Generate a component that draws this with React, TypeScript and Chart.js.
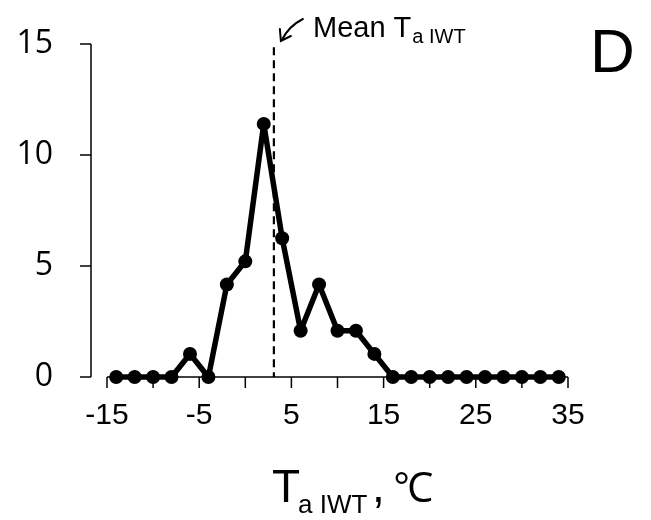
import React, { useEffect, useRef } from 'react';
import { Chart, registerables } from 'chart.js';

Chart.register(...registerables);

const temperatures = [-14, -12, -10, -8, -6, -4, -2, 0, 2, 4, 6, 8, 10, 12, 14, 16, 18, 20, 22, 24, 26, 28, 30, 32, 34];
const frequencies = [0, 0, 0, 0, 1.04, 0, 4.17, 5.21, 11.4, 6.25, 2.08, 4.17, 2.08, 2.08, 1.04, 0, 0, 0, 0, 0, 0, 0, 0, 0, 0];
const meanTemperature = 3.1;
const xTickValues = [-15, -10, -5, 0, 5, 10, 15, 20, 25, 30, 35];
const xTickLabels = [-15, -5, 5, 15, 25, 35];
const yTickValues = [0, 5, 10, 15];

const SANS = '"Liberation Sans", Arial, sans-serif';

export default function App() {
  const ref = useRef<HTMLCanvasElement>(null);

  useEffect(() => {
    document.body.style.margin = '0';
    const canvas = ref.current!;

    const overlay = {
      id: 'overlay',
      beforeDatasetsDraw(chart: any) {
        const { ctx, chartArea, scales } = chart;
        const x = scales.x;
        const y = scales.y;
        const line = (x1: number, y1: number, x2: number, y2: number) => {
          ctx.beginPath();
          ctx.moveTo(x1, y1);
          ctx.lineTo(x2, y2);
          ctx.stroke();
        };
        ctx.save();
        ctx.strokeStyle = '#000';
        ctx.lineWidth = 1.5;
        const yAxisX = chartArea.left - 16;
        const y0 = y.getPixelForValue(0);
        line(yAxisX, y.getPixelForValue(15), yAxisX, y0);
        yTickValues.forEach((v) => {
          const py = y.getPixelForValue(v);
          line(yAxisX - 11, py, yAxisX, py);
        });
        line(x.getPixelForValue(-15), y0, x.getPixelForValue(35), y0);
        xTickValues.forEach((v) => {
          const px = x.getPixelForValue(v);
          line(px, y0, px, y0 + 11);
        });
        // mean dashed line
        ctx.lineWidth = 2.2;
        ctx.setLineDash([8, 5]);
        const mx = x.getPixelForValue(meanTemperature);
        line(mx, y.getPixelForValue(14.85), mx, y0);
        ctx.setLineDash([]);
        ctx.restore();
      },
      afterDraw(chart: any) {
        const { ctx, scales } = chart;
        const x = scales.x;
        ctx.save();
        ctx.fillStyle = '#000';
        ctx.strokeStyle = '#000';
        ctx.textBaseline = 'alphabetic';
        ctx.textAlign = 'left';

        // Mean annotation
        ctx.font = `29px ${SANS}`;
        let cx = 313;
        ctx.fillText('Mean T', cx, 37);
        cx += ctx.measureText('Mean T').width;
        ctx.font = `20px ${SANS}`;
        ctx.fillText('a IWT', cx + 1, 43);

        // arrow
        const mx = x.getPixelForValue(meanTemperature);
        const ax = mx + 7;
        ctx.lineWidth = 2;
        ctx.lineCap = 'round';
        ctx.beginPath();
        ctx.moveTo(ax + 22, 19);
        ctx.quadraticCurveTo(ax + 8, 26, ax + 1, 40);
        ctx.stroke();
        ctx.beginPath();
        ctx.moveTo(ax - 1, 29);
        ctx.lineTo(ax, 41);
        ctx.lineTo(ax + 10, 36);
        ctx.stroke();

        // panel letter
        ctx.font = `62px ${SANS}`;
        ctx.fillText('D', 590, 72);

        // x axis title
        ctx.font = `46px ${SANS}`;
        let tx = 272;
        ctx.fillText('T', tx, 502);
        tx += ctx.measureText('T').width;
        ctx.font = `26px ${SANS}`;
        ctx.fillText('a IWT', tx - 2, 513);
        ctx.font = `46px ${SANS}`;
        ctx.fillText(',', 372, 502);
        ctx.font = `43px ${SANS}`;
        ctx.fillText('°', 393, 502);
        ctx.font = `42px "Open Sans", sans-serif`;
        ctx.fillText('C', 407, 502);
        ctx.restore();
      },
    };

    const chart = new Chart(canvas, {
      type: 'line',
      data: {
        datasets: [
          {
            data: temperatures.map((t, i) => ({ x: t, y: frequencies[i] })),
            borderColor: '#000',
            backgroundColor: '#000',
            borderWidth: 5.5,
            borderJoinStyle: 'round',
            pointRadius: 7,
            pointBackgroundColor: '#000',
            pointBorderWidth: 0,
            tension: 0,
            clip: false as any,
          },
        ],
      },
      options: {
        animation: false,
        responsive: false,
        maintainAspectRatio: false,
        layout: { autoPadding: false, padding: { top: 44, right: 83, left: 0, bottom: 0 } },
        plugins: { legend: { display: false }, tooltip: { enabled: false }, title: { display: false } },
        scales: {
          x: {
            type: 'linear',
            min: -15,
            max: 35,
            grid: { display: false, drawTicks: false, tickLength: 0 },
            border: { display: false },
            afterBuildTicks: (scale: any) => {
              scale.ticks = xTickValues.map((v) => ({ value: v }));
            },
            afterFit: (scale: any) => {
              scale.height = 143;
              scale.paddingLeft = 0;
              scale.paddingRight = 0;
            },
            ticks: {
              autoSkip: false,
              maxRotation: 0,
              padding: 21,
              color: '#000',
              font: { family: SANS, size: 30 },
              callback: (v: any) => (xTickLabels.includes(Number(v)) ? String(v) : ''),
            },
          },
          y: {
            type: 'linear',
            min: 0,
            max: 15,
            grid: { display: false, drawTicks: false, tickLength: 0 },
            border: { display: false },
            afterBuildTicks: (scale: any) => {
              scale.ticks = yTickValues.map((v) => ({ value: v }));
            },
            afterFit: (scale: any) => {
              scale.width = 107;
              scale.paddingTop = 0;
              scale.paddingBottom = 0;
            },
            ticks: {
              padding: 54,
              color: '#000',
              font: { family: '"Open Sans", sans-serif', size: 32 },
            },
          },
        },
      },
      plugins: [overlay],
    });

    return () => chart.destroy();
  }, []);

  return <canvas ref={ref} width={651} height={520} style={{ display: 'block' }} />;
}
